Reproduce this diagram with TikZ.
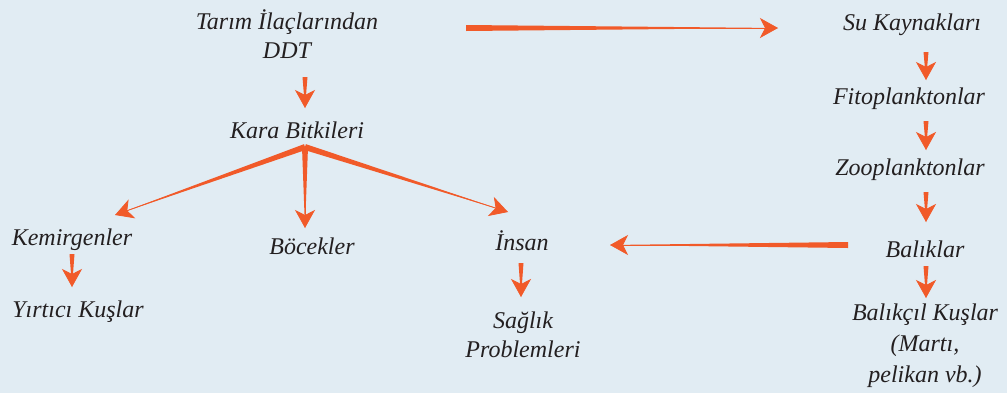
\documentclass[tikz,border=0pt]{standalone}
\usepackage{fontspec}
\setmainfont{Liberation Serif}
\usepackage{xcolor}
\usepackage{tikz}
\usetikzlibrary{arrows.meta,calc}

\definecolor{ddtorange}{HTML}{F15A29}
\definecolor{bgblue}{HTML}{E1ECF3}
\definecolor{inkgray}{HTML}{231F20}

% tapered arrow: thick at the start, thin at the tip
\newcommand{\taparrow}[3][1.5pt]{%
  \fill[ddtorange] ($(#2)!#1!90:(#3)$) -- ($(#2)!#1!-90:(#3)$) -- (#3) -- cycle;
  \draw[ddtorange, line width=0.4pt, -{Stealth[length=9pt,width=10pt,inset=2.5pt]}] (#2) -- (#3);}

\begin{document}
\begin{tikzpicture}[x=0.5pt, y=-0.5pt, every node/.style={font=\itshape\fontsize{12}{14.5}\selectfont, text=inkgray, align=center, inner sep=0pt}]
\useasboundingbox (0,0) rectangle (1007,392);
\fill[bgblue] (-10,-10) rectangle (1017,402);
% left part
\node (ddt) at (287,34) {Tarım İlaçlarından\\DDT};
\node (kara) at (297,130) {Kara Bitkileri};
\node (kemir) at (72,240) {Kemirgenler};
\node (bocek) at (312,246) {Böcekler};
\node (insan) at (522,241) {İnsan};
\node (yirtici) at (78,312) {Yırtıcı Kuşlar};
\node (saglik) at (523,335) {Sağlık\\Problemleri};
% right column
\node (su) at (912,25) {Su Kaynakları};
\node (fito) at (909,99) {Fitoplanktonlar};
\node (zoo) at (910,170) {Zooplanktonlar};
\node (balik) at (925,249) {Balıklar};
\node[font=\itshape\fontsize{12}{15.5}\selectfont] (balikcil) at (925,346) {Balıkçıl Kuşlar\\(Martı,\\pelikan vb.)};
% arrow ends
\coordinate (ddtR) at (466,28);   \coordinate (suL) at (778,28);
\coordinate (ddtS) at (305,77);   \coordinate (karaN) at (305,108);
\coordinate (fan) at (305,147);
\coordinate (kemirN) at (115,215); \coordinate (bocekN) at (305,228); \coordinate (insanN) at (508,212);
\coordinate (kemirS) at (72,254); \coordinate (yirticiN) at (72,287);
\coordinate (insanS) at (521,263); \coordinate (saglikN) at (521,297);
\coordinate (suS) at (926,52);    \coordinate (fitoN) at (926,80);
\coordinate (fitoS) at (926,121); \coordinate (zooN) at (926,150);
\coordinate (zooS) at (926,192);  \coordinate (balikN) at (926,222);
\coordinate (balikS) at (926,266); \coordinate (balikcilN) at (926,298);
\coordinate (balikW) at (848,245); \coordinate (insanE) at (610,245);
% arrows
\taparrow{ddtR}{suL}
\taparrow[1.25pt]{ddtS}{karaN}
\taparrow{fan}{kemirN}
\taparrow{fan}{bocekN}
\taparrow{fan}{insanN}
\taparrow[1.25pt]{kemirS}{yirticiN}
\taparrow[1.25pt]{insanS}{saglikN}
\taparrow[1.25pt]{suS}{fitoN}
\taparrow[1.25pt]{fitoS}{zooN}
\taparrow[1.25pt]{zooS}{balikN}
\taparrow[1.25pt]{balikS}{balikcilN}
\taparrow{balikW}{insanE}
\end{tikzpicture}
\end{document}
